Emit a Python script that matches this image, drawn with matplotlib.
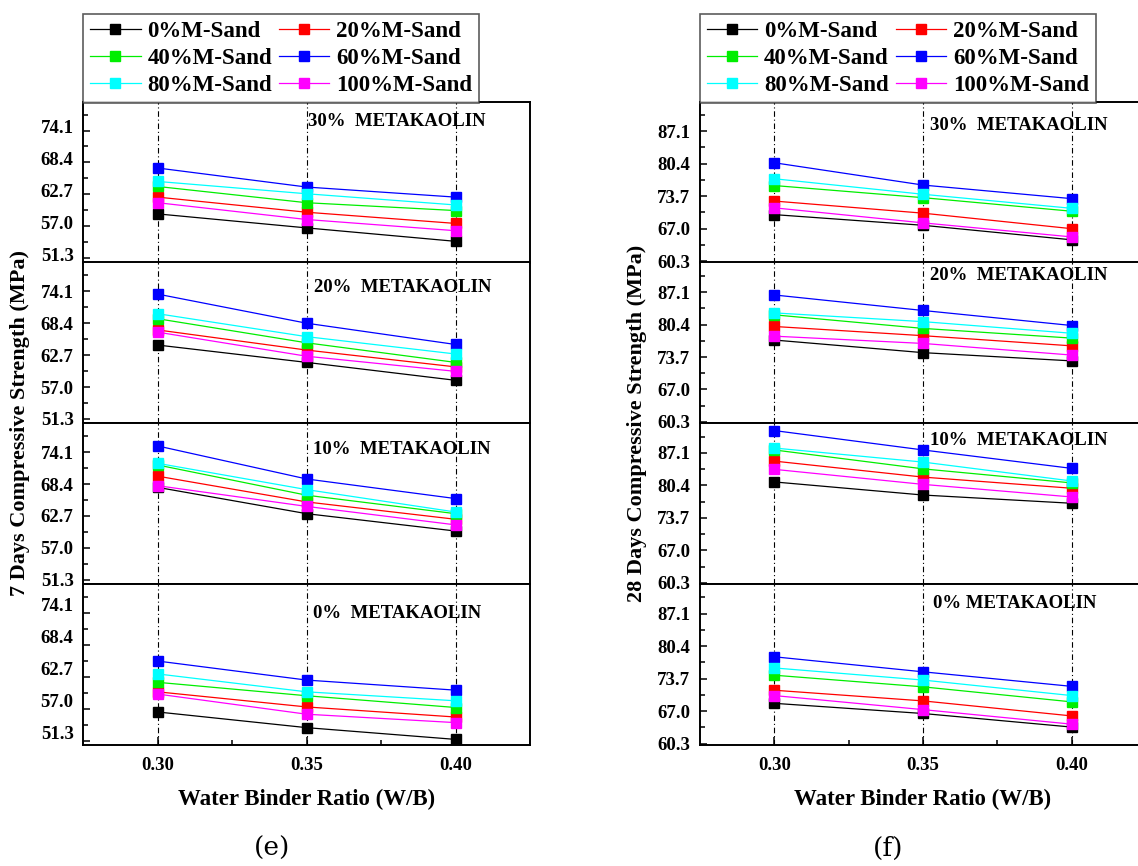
import matplotlib
matplotlib.use('Agg')
import matplotlib.pyplot as plt
from matplotlib.ticker import FixedLocator, FormatStrFormatter
from matplotlib.transforms import ScaledTranslation

# water/binder ratios on the x axis
wb = [0.30, 0.35, 0.40]
sand_labels = ['0%M-Sand', '20%M-Sand', '40%M-Sand', '60%M-Sand', '80%M-Sand', '100%M-Sand']
sand_colors = ['#000000', '#ff0000', '#00ee00', '#0000ff', '#00ffff', '#ff00ff']

# 7 days strength (MPa), rows: 0,20,40,60,80,100 % M-sand
d7_mk30 = [[59.2, 56.7, 54.3], [62.2, 59.5, 57.5], [64.1, 61.2, 59.8],
           [67.4, 64.0, 62.2], [65.0, 62.8, 60.8], [61.2, 58.2, 56.2]]
d7_mk20 = [[64.5, 61.4, 58.2], [67.2, 63.6, 60.6], [69.2, 64.9, 61.4],
           [73.6, 68.4, 64.6], [70.1, 66.0, 62.9], [66.8, 62.5, 59.8]]
d7_mk10 = [[67.8, 63.1, 60.0], [69.8, 65.2, 62.1], [71.8, 66.4, 63.1],
           [75.2, 69.3, 65.8], [72.1, 67.4, 63.4], [68.1, 64.4, 61.1]]
d7_mk0 = [[56.4, 53.6, 51.5], [60.0, 57.3, 55.5], [61.7, 59.3, 57.2],
          [65.5, 62.1, 60.3], [63.2, 60.0, 58.4], [59.6, 56.0, 54.5]]

# 28 days strength (MPa)
d28_mk30 = [[69.9, 67.7, 64.7], [72.7, 70.2, 67.0], [75.9, 73.4, 70.6],
            [80.6, 76.0, 73.2], [77.3, 74.1, 71.2], [71.3, 68.2, 65.3]]
d28_mk20 = [[77.2, 74.6, 72.9], [80.0, 78.1, 76.0], [82.4, 79.6, 77.6],
            [86.5, 83.3, 80.2], [82.8, 81.0, 78.6], [78.0, 76.5, 74.1]]
d28_mk10 = [[81.1, 78.4, 76.7], [85.4, 82.1, 79.8], [87.7, 83.8, 80.9],
            [91.7, 87.7, 83.9], [88.1, 85.2, 81.3], [83.7, 80.6, 78.0]]
d28_mk0 = [[68.6, 66.5, 63.7], [71.3, 69.1, 66.0], [74.4, 72.0, 68.9],
           [78.2, 75.1, 72.1], [75.9, 73.4, 70.2], [70.2, 67.3, 64.3]]

ticks_7d = [51.3, 57.0, 62.7, 68.4, 74.1]
ticks_28d = [60.3, 67.0, 73.7, 80.4, 87.1]

notes_7d = ['30%  METAKAOLIN', '20%  METAKAOLIN', '10%  METAKAOLIN', '0%  METAKAOLIN']
notes_28d = ['30%  METAKAOLIN', '20%  METAKAOLIN', '10%  METAKAOLIN', '0% METAKAOLIN']

plt.rcParams['font.family'] = ['Liberation Serif', 'DejaVu Serif']
plt.rcParams['font.weight'] = 'bold'

fig = plt.figure(figsize=(11.38, 8.66), dpi=100)
W, H = 1138.0, 866.0
tops = [101.7, 262.5, 423.3, 584.1]
sub_h = 160.9


def draw_panel(x_left, x_right, blocks, ylim, yticks, notes, note_xy, ylabel, ylabel_x, caption, caption_x, label_shift):
    axes = []
    for i, data in enumerate(blocks):
        ax = fig.add_axes([x_left / W, 1 - (tops[i] + sub_h) / H, (x_right - x_left) / W, sub_h / H])
        for x in wb:
            ax.axvline(x, color='black', lw=0.8, ls=(0, (5, 2.5, 1, 2.5)), zorder=0)
        for j, vals in enumerate(data):
            ax.plot(wb, vals, color=sand_colors[j], lw=0.9, marker='s', ms=7.5,
                    mec=sand_colors[j], label=sand_labels[j])
        ax.set_xlim(0.275, 0.425)
        ax.set_ylim(*ylim)
        ax.yaxis.set_major_locator(FixedLocator(yticks))
        step = yticks[1] - yticks[0]
        minors = [t + step / 2 for t in yticks]
        ax.yaxis.set_minor_locator(FixedLocator(minors))
        ax.yaxis.set_major_formatter(FormatStrFormatter('%.1f'))
        ax.tick_params(axis='y', which='major', direction='in', length=5, width=1.1, labelsize=13.5, pad=7)
        ax.tick_params(axis='y', which='minor', direction='in', length=3.5, width=1.1)
        for sp in ax.spines.values():
            sp.set_linewidth(1.4)
        if i < 3:
            ax.tick_params(axis='x', which='both', bottom=False, labelbottom=False)
        else:
            ax.xaxis.set_major_locator(FixedLocator(wb))
            ax.xaxis.set_minor_locator(FixedLocator([0.325, 0.375]))
            ax.xaxis.set_major_formatter(FormatStrFormatter('%.2f'))
            ax.tick_params(axis='x', which='major', direction='in', length=6, width=1.1, labelsize=13.5, pad=9)
            ax.tick_params(axis='x', which='minor', direction='in', length=3.5, width=1.1)
            ax.set_xlabel('Water Binder Ratio (W/B)', fontsize=16.5, fontweight='bold', labelpad=10)
        if label_shift[i]:
            off = ScaledTranslation(0, label_shift[i] / 100.0, fig.dpi_scale_trans)
            for lab in ax.get_yticklabels():
                lab.set_transform(lab.get_transform() + off)
        ax.text(note_xy[i][0], note_xy[i][1], notes[i], transform=ax.get_xaxis_transform(),
                fontsize=13.5, fontweight='bold', va='center', ha='left')
        axes.append(ax)

    h, l = axes[0].get_legend_handles_labels()
    order = [0, 2, 4, 1, 3, 5]
    axes[0].legend([h[k] for k in order], [l[k] for k in order], ncol=2,
                   loc='lower left', bbox_to_anchor=(0.0, 0.995), borderaxespad=0,
                   fontsize=16.5, frameon=True, fancybox=False, edgecolor='#333333',
                   handlelength=2.2, handletextpad=0.3, columnspacing=0.3,
                   labelspacing=0.25, borderpad=0.3)
    axes[0].get_legend().get_frame().set_linewidth(1.2)
    fig.text(ylabel_x / W, 1 - 423.4 / H, ylabel, rotation=90, fontsize=16,
             fontweight='bold', ha='center', va='center')
    fig.text(caption_x / W, 1 - 848 / H, caption, fontsize=19, fontweight='normal',
             family='DejaVu Serif', ha='center', va='center')
    return axes


draw_panel(83.3, 530.0, [d7_mk30, d7_mk20, d7_mk10, d7_mk0], (50.5, 79.25), ticks_7d,
           notes_7d, [(0.3505, 0.876), (0.3525, 0.845), (0.352, 0.837), (0.352, 0.82)],
           '7 Days Compressive Strength (MPa)', 20, '(e)', 272, [4, 0, 0, 8.5])

draw_panel(700.0, 1146.0, [d28_mk30, d28_mk20, d28_mk10, d28_mk0], (60.0, 93.2), ticks_28d,
           notes_28d, [(0.3525, 0.85), (0.3525, 0.917), (0.3525, 0.892), (0.3535, 0.878)],
           '28 Days Compressive Strength (MPa)', 637, '(f)', 888, [0, 0, 0, 0])

fig.savefig('out.png', dpi=100)
